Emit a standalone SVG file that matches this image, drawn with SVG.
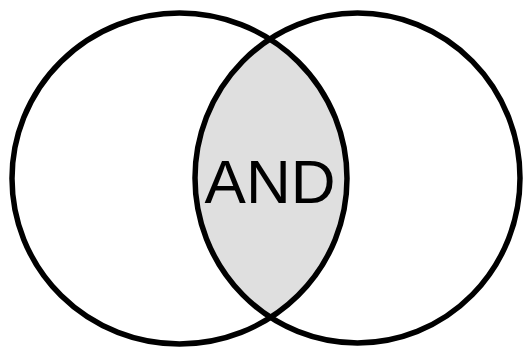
<svg xmlns="http://www.w3.org/2000/svg" width="526" height="356" viewBox="0 0 526 356">
<style>
.ring{fill:none;stroke:#000;stroke-width:5.5}
.lbl{font-family:"Liberation Sans",Arial,sans-serif;font-size:62px;fill:#000;text-anchor:middle}
</style>
<defs>
<clipPath id="clipA"><ellipse cx="179.5" cy="178.5" rx="167.5" ry="165.5"/></clipPath>
</defs>
<rect width="526" height="356" fill="#fff"/>
<g id="intersection">
<ellipse cx="357.5" cy="178" rx="162.5" ry="165" fill="#dfdfdf" clip-path="url(#clipA)"/>
<text class="lbl" x="270" y="203">AND</text>
</g>
<g id="setA"><ellipse class="ring" cx="179.5" cy="178.5" rx="167.5" ry="165.5"/></g>
<g id="setB"><ellipse class="ring" cx="357.5" cy="178" rx="162.5" ry="165"/></g>
</svg>
